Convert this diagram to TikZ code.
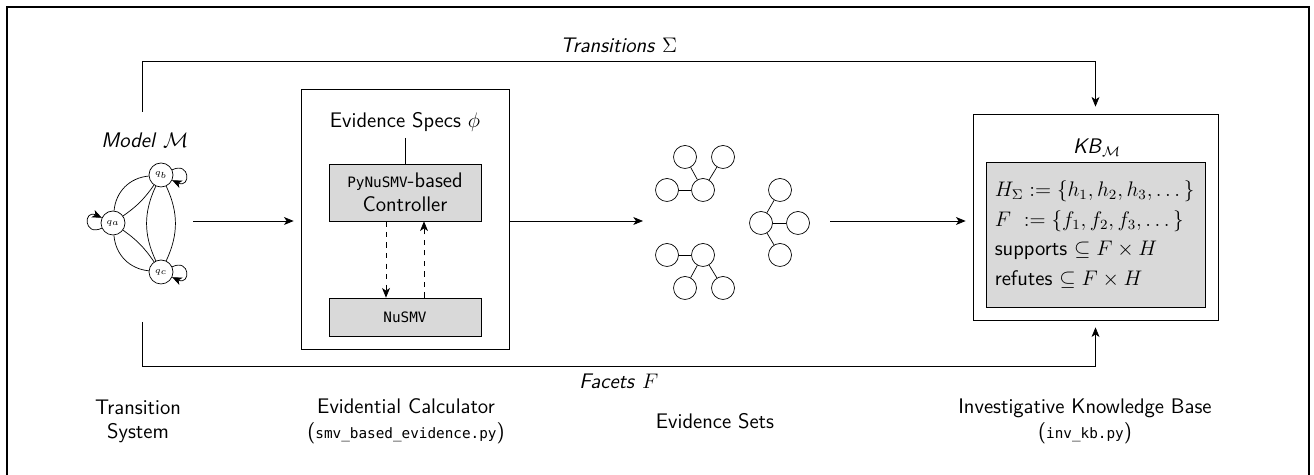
\documentclass[tikz,border=0pt]{standalone}
\usepackage{amsmath}
\usepackage{fontspec}
\setmonofont[Scale=0.68]{DejaVu Sans Mono}
\renewcommand{\familydefault}{\sfdefault}
\usetikzlibrary{arrows,arrows.meta}

\tikzset{
    state/.style={circle, draw, minimum size=0.48cm, inner sep=0pt, font=\tiny},
    leaf/.style={circle, draw, minimum size=0.46cm, inner sep=0pt},
    grey/.style={draw, fill=black!15, minimum width=3.04cm},
    flow/.style={->, shorten >=4pt},
    caption/.style={align=center}
}

\begin{document}
\begin{tikzpicture}[x=0.02cm, y=0.02cm, >={Stealth[length=5.5pt, width=4.5pt, inset=1.5pt]}, every node/.append style={font=\large}]
            \useasboundingbox (0,0) rectangle (1314,475);
            \draw[line width=0.8pt] (7,-15) rectangle (1309,468);

            % transition system
            \node (model) at (145,335) {\textit{Model} $\mathcal{M}$};
            \node[state] (qa) at (113,252) {$q_a$};
            \node[state] (qb) at (161,300) {$q_b$};
            \node[state] (qc) at (161,203) {$q_c$};
            \draw (qa) to[bend left=40] (qb) (qa) to[bend right=10] (qb);
            \draw (qa) to[bend right=40] (qc) (qa) to[bend left=10] (qc);
            \draw (qb) to[bend left=25] (qc) (qb) to[bend right=25] (qc);
            \draw[->] (qa) to[out=205, in=155, looseness=5] (qa);
            \draw[->] (qb) to[out=25, in=-25, looseness=5] (qb);
            \draw[->] (qc) to[out=25, in=-25, looseness=5] (qc);

            % evidential calculator
            \node[draw, minimum width=4.16cm, minimum height=5.2cm] (ev) at (405,256) {};
            \node (specs) at (405,353) {Evidence Specs $\phi$};
            \node[grey, minimum height=1.14cm, align=center] (ctrl) at (405,282.5) {\texttt{PyNuSMV}-based\\Controller};
            \node[grey, minimum height=0.76cm] (nusmv) at (405,158) {\texttt{NuSMV}};
            \draw (specs) -- (ctrl);
            \draw[->, dashed] ([xshift=-0.38cm]ctrl.south) -- ([xshift=-0.38cm]nusmv.north);
            \draw[->, dashed] ([xshift=0.38cm]nusmv.north) -- ([xshift=0.38cm]ctrl.south);

            % evidence sets
            \node[leaf] (a0) at (703,285) {};
            \node[leaf] (a1) at (667,285) {};
            \node[leaf] (a2) at (685,318) {};
            \node[leaf] (a3) at (723,318) {};
            \node[leaf] (b0) at (703,220) {};
            \node[leaf] (b1) at (667,220) {};
            \node[leaf] (b2) at (685,187) {};
            \node[leaf] (b3) at (723,187) {};
            \node[leaf] (c0) at (761,252) {};
            \node[leaf] (c1) at (780,285) {};
            \node[leaf] (c2) at (798,252) {};
            \node[leaf] (c3) at (780,220) {};
            \foreach \t in {a,b,c}
                \foreach \i in {1,2,3}
                    \draw (\t0) -- (\t\i);

            % knowledge base
            \node[draw, minimum width=4.9cm, minimum height=4.12cm] (kb) at (1095.5,258) {};
            \node (kbt) at (1097,327) {\textit{KB}$_{\mathcal{M}}$};
            \node[draw, fill=black!15, minimum height=2.9cm, text width=4.03cm, inner xsep=5pt, align=left] (facts) at (1095.5,240.5)
                {$H_\Sigma := \{h_1, h_2, h_3, \dots\,\}$\\[3pt]
                 $F\ := \{f_1, f_2, f_3, \dots\,\}$\\[3pt]
                 supports $\subseteq F \times H$\\[3pt]
                 refutes $\subseteq F \times H$};

            % connectors
            \coordinate (gout) at (193,254);
            \coordinate (sin) at (650,254);
            \coordinate (sout) at (830,254);
            \coordinate (ttop) at (142,363);
            \coordinate (tbot) at (142,153);
            \draw[flow] (gout) -- (gout -| ev.west);
            \draw[flow] (ev.east |- sin) -- (sin);
            \draw[flow] (sout) -- (sout -| kb.west);
            \draw[flow] (ttop) -- (142,414) -| node[pos=0.25, above=1pt] {\textit{Transitions} $\Sigma$} (kb);
            \draw[flow] (tbot) -- (142,109) -| node[pos=0.25, below=1pt] {\textit{Facets} $F$} (kb);

            % captions
            \node[caption] (tsys) at (138,53.5) {Transition\\System};
            \node[caption] (calc) at (406,53.5) {Evidential Calculator\\(\texttt{smv\_based\_evidence.py})};
            \node (esets) at (715,53.5) {Evidence Sets};
            \node[caption] (ikb) at (1085,53.5) {Investigative Knowledge Base\\(\texttt{inv\_kb.py})};
        \end{tikzpicture}
\end{document}
